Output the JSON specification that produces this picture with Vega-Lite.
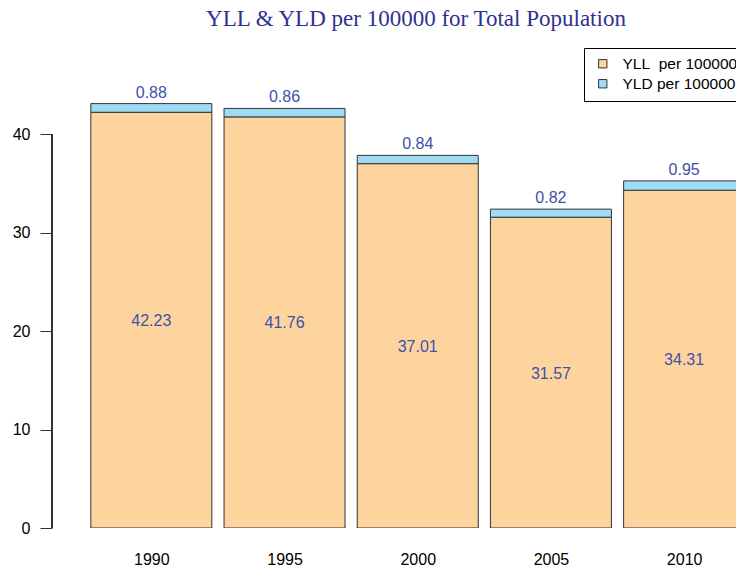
{
  "$schema": "https://vega.github.io/schema/vega-lite/v6.json",
  "width": 684,
  "height": 443,
  "autosize": {"type": "none"},
  "padding": {"left": 52, "top": 85, "right": 0, "bottom": 39},
  "background": "white",
  "config": {"view": {"stroke": null}, "font": "Liberation Sans"},
  "title": {
    "text": "YLL & YLD per 100000 for Total Population",
    "font": "Liberation Serif",
    "fontSize": 23,
    "fontWeight": "normal",
    "color": "#2E3192",
    "dx": 22,
    "offset": 17,
    "frame": "group"
  },
  "data": {
    "values": [
      {"year": 1990, "measure": "YLL", "value": 42.23},
      {"year": 1990, "measure": "YLD", "value": 0.88},
      {"year": 1995, "measure": "YLL", "value": 41.76},
      {"year": 1995, "measure": "YLD", "value": 0.86},
      {"year": 2000, "measure": "YLL", "value": 37.01},
      {"year": 2000, "measure": "YLD", "value": 0.84},
      {"year": 2005, "measure": "YLL", "value": 31.57},
      {"year": 2005, "measure": "YLD", "value": 0.82},
      {"year": 2010, "measure": "YLL", "value": 34.31},
      {"year": 2010, "measure": "YLD", "value": 0.95}
    ]
  },
  "transform": [
    {"joinaggregate": [{"op": "sum", "field": "value", "as": "total"}], "groupby": ["year"]}
  ],
  "encoding": {
    "x": {
      "field": "year",
      "type": "quantitative",
      "scale": {"domain": [1986.271, 2011.947], "nice": false, "zero": false, "padding": 0},
      "axis": {
        "values": [1990, 1995, 2000, 2005, 2010],
        "format": "d",
        "domain": false,
        "ticks": false,
        "grid": false,
        "labelPadding": 23,
        "labelFontSize": 16,
        "labelColor": "black",
        "labelFont": "Liberation Sans",
        "title": null
      }
    }
  },
  "layer": [
    {
      "mark": {"type": "bar", "width": 121, "stroke": "#333333", "strokeWidth": 1, "clip": true, "opacity": 1},
      "encoding": {
        "y": {
          "field": "value",
          "type": "quantitative",
          "stack": "zero",
          "scale": {"domain": [0, 45], "nice": false},
          "axis": {
            "values": [0, 10, 20, 30, 40],
            "domain": false,
            "grid": false,
            "tickSize": 12,
            "tickColor": "#333333",
            "labelFontSize": 16,
            "labelPadding": 10,
            "labelColor": "black",
            "labelFont": "Liberation Sans",
            "title": null
          }
        },
        "color": {
          "field": "measure",
          "type": "nominal",
          "scale": {"domain": ["YLL", "YLD"], "range": ["#FDD49E", "#9DDCF3"]},
          "legend": {
            "orient": "none",
            "legendX": 532,
            "legendY": -37,
            "title": null,
            "symbolType": "square",
            "symbolSize": 70,
            "symbolStrokeColor": "#333333",
            "symbolStrokeWidth": 1,
            "symbolOpacity": 1,
            "symbolOffset": 3,
            "strokeColor": "black",
            "fillColor": "white",
            "padding": 8,
            "labelFontSize": 15.5,
            "labelOffset": 12,
            "labelColor": "black",
            "labelFont": "Liberation Sans",
            "rowPadding": 3,
            "labelLimit": 300,
            "labelExpr": "datum.label == 'YLL' ? 'YLL\u00a0\u00a0per 100000' : 'YLD per 100000'"
          }
        },
        "order": {"field": "measure", "sort": "descending"}
      }
    },
    {
      "transform": [
        {"filter": "datum.measure == 'YLL'"},
        {"calculate": "datum.value / 2", "as": "mid"}
      ],
      "mark": {"type": "text", "fontSize": 16, "color": "#3F51A8", "font": "Liberation Sans", "baseline": "middle", "dy": 1},
      "encoding": {
        "y": {"field": "mid", "type": "quantitative"},
        "text": {"field": "value", "type": "quantitative", "format": ".2f"}
      }
    },
    {
      "transform": [{"filter": "datum.measure == 'YLD'"}],
      "mark": {"type": "text", "fontSize": 16, "color": "#3F51A8", "font": "Liberation Sans", "baseline": "middle", "dy": -11},
      "encoding": {
        "y": {"field": "total", "type": "quantitative"},
        "text": {"field": "value", "type": "quantitative", "format": ".2f"}
      }
    },
    {
      "mark": {"type": "rule", "color": "#333333", "strokeWidth": 1},
      "encoding": {
        "x": {"datum": 1986.271},
        "y": {"datum": 0},
        "y2": {"datum": 40}
      }
    }
  ]
}
